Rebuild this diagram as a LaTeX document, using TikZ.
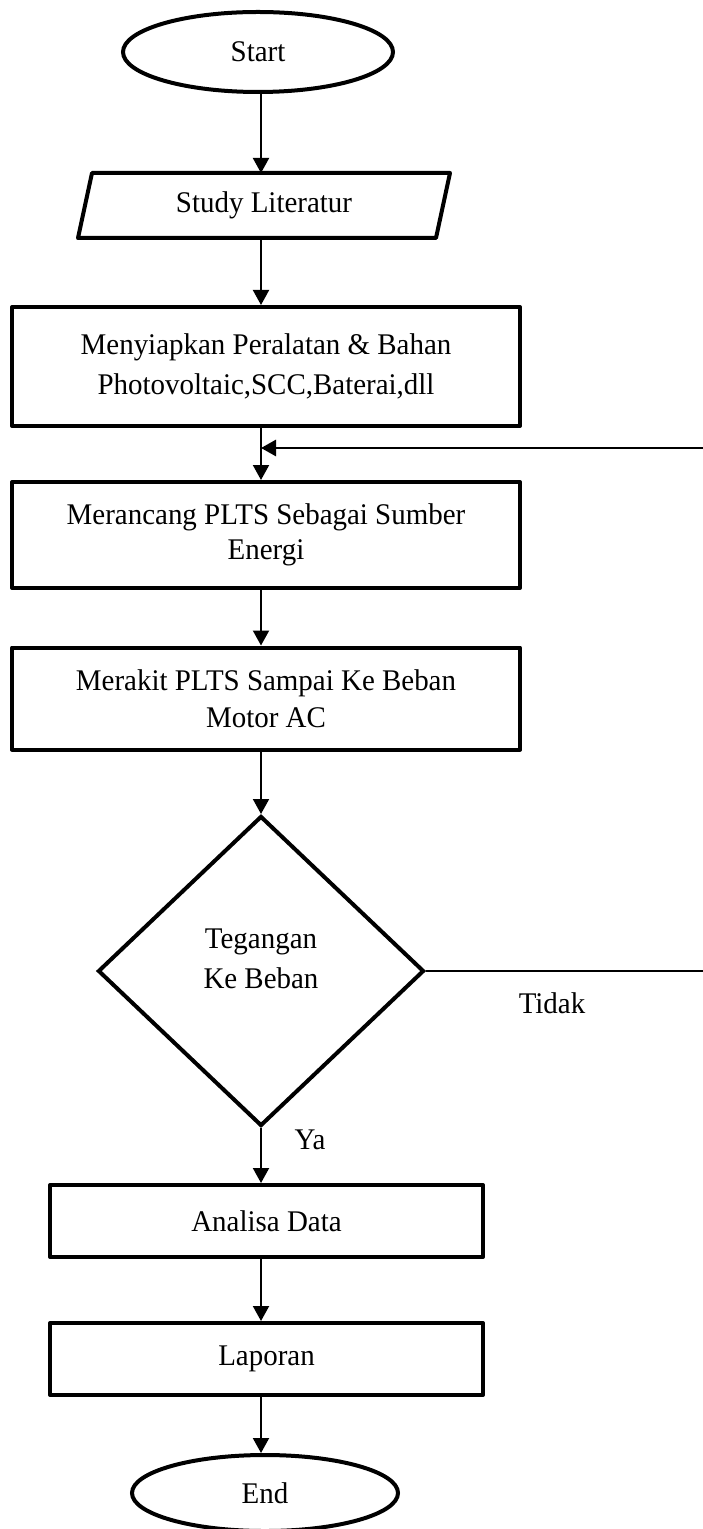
\documentclass[tikz,border=0pt]{standalone}
\usepackage{fontspec}
\setmainfont{Liberation Serif}[FakeStretch=0.965]
\usetikzlibrary{shapes.geometric,arrows.meta}
\begin{document}
\begin{tikzpicture}[x=0.5pt,y=-0.5pt,
  every node/.style={font=\fontsize{15pt}{20pt}\selectfont},
  proc/.style={draw,line width=2pt,rectangle,align=center,inner sep=0pt,line join=round},
  term/.style={draw,line width=2pt,ellipse,inner sep=0pt},
  arr/.style={line width=1pt,-{Triangle[width=8pt,length=7.5pt]}},
  fbarr/.style={line width=1.4pt,-{Triangle[width=8pt,length=7.5pt]}},
  conn/.style={line width=1pt},
  lbl/.style={inner sep=0pt}]
\useasboundingbox (0,0) rectangle (702,1529);
\coordinate (axis) at (261,0);
% nodes
\node[term,minimum width=135pt,minimum height=40pt] (start) at (258,52) {Start};
\node[rectangle,minimum width=179pt,minimum height=32.5pt,inner sep=0pt,outer sep=0pt] (study) at (264,205.5) {Study Literatur};
\draw[line width=2pt,line join=round] ([xshift=3.5pt]study.north west) -- ([xshift=3.5pt]study.north east) -- ([xshift=-3.5pt]study.south east) -- ([xshift=-3.5pt]study.south west) -- cycle;
\node[proc,minimum width=254pt,minimum height=59.5pt,font=\fontsize{15pt}{20pt}\selectfont] (box1) at (266,366.5) {Menyiapkan Peralatan \& Bahan\\Photovoltaic,SCC,Baterai,dll};
\node[proc,minimum width=254pt,minimum height=53pt,font=\fontsize{15pt}{17.5pt}\selectfont] (box2) at (266,535) {Merancang PLTS Sebagai Sumber\\Energi};
\node[proc,minimum width=254pt,minimum height=51pt,font=\fontsize{15pt}{18.5pt}\selectfont] (box3) at (266,698.5) {Merakit PLTS Sampai Ke Beban\\Motor AC};
\node[draw,diamond,line width=2pt,line join=miter,inner sep=0pt,minimum width=163pt,minimum height=155pt] (dec) at (261,971) {};
\node[lbl,align=center,font=\fontsize{15pt}{20pt}\selectfont] (dectext) at (261,959) {Tegangan\\Ke Beban};
\node[proc,minimum width=216.5pt,minimum height=36pt] (box4) at (266.5,1221) {Analisa Data};
\node[proc,minimum width=216.5pt,minimum height=36pt] (box5) at (266.5,1359) {Laporan};
\node[term,minimum width=133pt,minimum height=38pt] (end) at (265,1493) {End};
\node[lbl] (tidak) at (552,1003) {Tidak};
\node[lbl] (ya) at (310,1140) {Ya};
% connectors
\draw[arr] (start.south -| axis) -- (study.north -| axis);
\draw[arr] (study.south -| axis) -- (box1.north -| axis);
\draw[arr] (box1.south -| axis) -- (box2.north -| axis);
\draw[arr] (box2.south -| axis) -- (box3.north -| axis);
\draw[arr] (box3.south -| axis) -- (dec.north);
\draw[arr] (dec.south) -- (box4.north -| axis);
\draw[arr] (box4.south -| axis) -- (box5.north -| axis);
\draw[arr] (box5.south -| axis) -- (end.north -| axis);
\coordinate (fbR) at (706,448);
\draw[conn] (dec.east) -- (dec.east -| fbR);
\draw[fbarr] (fbR) -- (axis |- fbR);
\end{tikzpicture}
\end{document}
